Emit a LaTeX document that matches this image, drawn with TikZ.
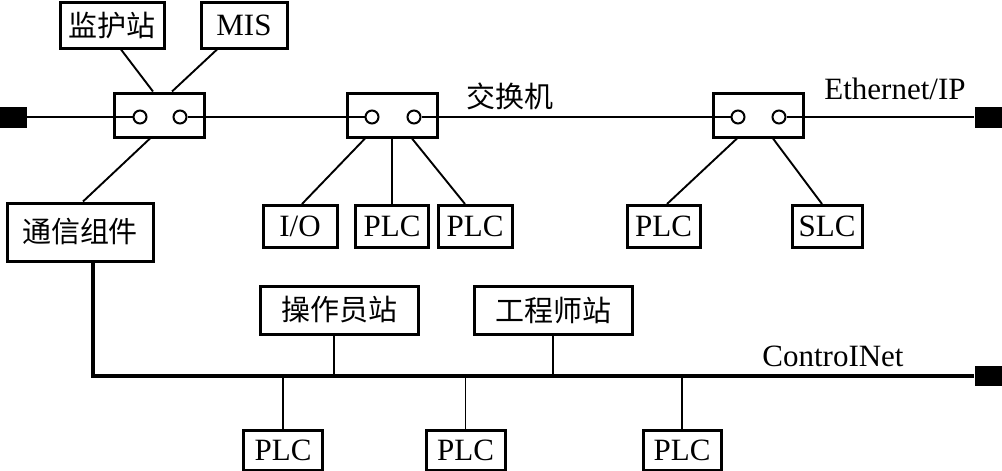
\documentclass[tikz,border=0pt]{standalone}
\usepackage{fontspec}
\setmainfont{Liberation Serif}
\newfontfamily\cjk{Noto Sans CJK SC}
\tikzset{
	box/.style={draw, line width=3pt, inner sep=0pt, minimum height=42pt, font=\fontsize{31}{33}\selectfont},
	cbox/.style={box, font=\cjk\fontsize{29}{31}\selectfont},
	switchbox/.style={draw, line width=3pt, minimum width=90pt, minimum height=44pt, inner sep=0pt},
	port/.style={draw, circle, line width=2pt, minimum size=13pt, inner sep=0pt, fill=white},
	term/.style={fill=black, minimum width=27pt, minimum height=21pt, inner sep=0pt},
	link/.style={line width=1.9pt},
	bus/.style={line width=2.6pt},
	cbus/.style={line width=3.2pt}
}
\begin{document}
\begin{tikzpicture}[x=1pt, y=-1pt]
	\useasboundingbox (0,0) rectangle (1002,471);
	% Ethernet/IP
	\node[term] (termL) at (13.5,117) {};
	\node[term] (termR) at (988,117) {};
	\node[switchbox] (sw1) at (159,115) {};
	\node[switchbox] (sw2) at (392,115) {};
	\node[switchbox] (sw3) at (758,115) {};
	\node[port] (p1a) at (140,117) {}; \node[port] (p1b) at (180,117) {};
	\node[port] (p2a) at (372,117) {}; \node[port] (p2b) at (414,117) {};
	\node[port] (p3a) at (738,117) {}; \node[port] (p3b) at (779,117) {};
	\draw[bus] (termL.east) -- (p1a.west);
	\draw[bus] (p1b.east) -- (p2a.west);
	\draw[bus] (p2b.east) -- (p3a.west);
	\draw[bus] (p3b.east) -- (termR.west);
	\node[font=\cjk\fontsize{29}{31}\selectfont] (swlabel) at (510,96) {交换机};
	\node[font=\fontsize{31}{33}\selectfont] (ethlabel) at (895,89) {Ethernet/IP};
	% stations on top
	\node[cbox, minimum width=104pt, minimum height=46pt] (monitor) at (112,25) {监护站};
	\node[box, minimum width=86pt, minimum height=46pt] (mis) at (244,25) {MIS};
	\draw[link] ([xshift=9]monitor.south) -- ([xshift=-6]sw1.north);
	\draw[link] ([xshift=-27]mis.south) -- ([xshift=13]sw1.north);
	% devices below the switches
	\node[cbox, minimum width=146pt, minimum height=58pt] (comm) at (80,232) {通信组件};
	\node[box, minimum width=74pt] (io) at (300,226.5) {I/O};
	\node[box, minimum width=73pt] (plcA) at (392,226.5) {PLC};
	\node[box, minimum width=74pt] (plcB) at (475,226.5) {PLC};
	\node[box, minimum width=73pt] (plcC) at (663.5,226.5) {PLC};
	\node[box, minimum width=70pt] (slc) at (827,226.5) {SLC};
	\draw[link] ([xshift=-9]sw1.south) -- ([xshift=3]comm.north);
	\draw[link] ([xshift=-27]sw2.south) -- ([xshift=2]io.north);
	\draw[link] (sw2.south) -- (plcA.north);
	\draw[link] ([xshift=20]sw2.south) -- ([xshift=-10]plcB.north);
	\draw[link] ([xshift=-21]sw3.south) -- ([xshift=3.5]plcC.north);
	\draw[link] ([xshift=15]sw3.south) -- ([xshift=-5]slc.north);
	% ControlNet
	\node[term, minimum height=20pt] (termB) at (988,376) {};
	\coordinate (cnet) at (93,375);
	\draw[cbus] ([xshift=13]comm.south) |- (termB.west);
	\node[font=\fontsize{31}{33}\selectfont] (cnetlabel) at (833,356) {ControINet};
	\node[cbox, minimum width=158pt, minimum height=48pt] (op) at (339,310) {操作员站};
	\node[cbox, minimum width=158pt, minimum height=48pt] (eng) at (553,310) {工程师站};
	\node[box, minimum width=79pt, minimum height=40pt] (plcD) at (283,450) {PLC};
	\node[box, minimum width=79pt, minimum height=40pt] (plcE) at (465.5,450) {PLC};
	\node[box, minimum width=78pt, minimum height=40pt] (plcF) at (682,450) {PLC};
	\foreach \n/\s in {op/-5, eng/0}{
		\draw[link] ([xshift=\s]\n.south) -- ([xshift=\s]\n.south |- cnet);
	}
	\foreach \n in {plcD, plcE, plcF}{
		\draw[link] (\n.north) -- (\n.north |- cnet);
	}
\end{tikzpicture}
\end{document}
